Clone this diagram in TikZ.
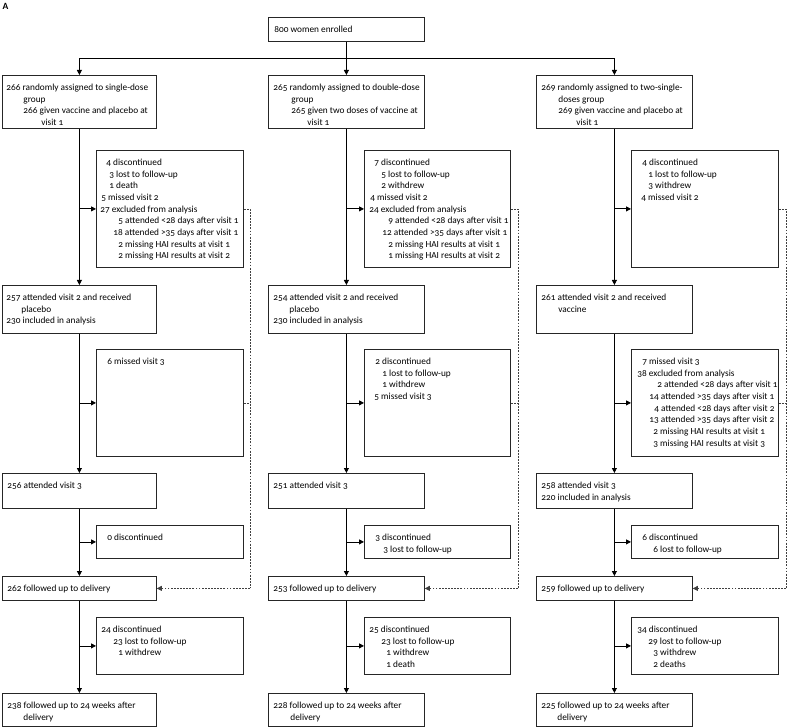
\documentclass[tikz,border=0pt]{standalone}
\usepackage{fontspec}
\setmainfont{Carlito}[Numbers=OldStyle]
\usetikzlibrary{arrows.meta}
\newcommand\ind[2]{\noindent\rlap{\hspace*{#1pt}\rule{0pt}{8pt}#2}\par}
\newcommand\bt[3]{\parbox[c][#2pt][t]{#1pt}{\vspace*{7pt}\fontsize{9.3}{11.7}\selectfont #3}}
\begin{document}
\begin{tikzpicture}[x=1pt,y=-1pt,
  box/.style={draw=black!85, line width=0.8pt, inner sep=0pt, anchor=north west},
  arr/.style={draw=black, line width=0.8pt, -{Triangle[length=5pt,width=5pt]}},
  dsh/.style={draw=black!75, line width=0.7pt, dash pattern=on 1.8pt off 1.3pt}]
\useasboundingbox (0,0) rectangle (787,727);
\node[anchor=center, inner sep=0pt, font=\fontsize{9.5}{10}\selectfont\bfseries] (lab) at (5.5,6) {A};
% top
\node[box] (T) at (268,17) {\bt{156}{24}{\ind{6}{800 women enrolled}}};
% row 1
\node[box] (L1) at (2,75) {\bt{154}{53}{\ind{4}{266 randomly assigned to single-dose}\ind{21}{group}\ind{21}{266 given vaccine and placebo at}\ind{39}{visit 1}}};
\node[box] (M1) at (268,75) {\bt{156}{53}{\ind{5}{265 randomly assigned to double-dose}\ind{23}{group}\ind{23}{265 given two doses of vaccine at}\ind{39}{visit 1}}};
\node[box] (R1) at (536,75) {\bt{156}{53}{\ind{5}{269 randomly assigned to two-single-}\ind{22}{doses group}\ind{22}{269 given vaccine and placebo at}\ind{40}{visit 1}}};
% side 1
\node[box] (LS1) at (96,150) {\bt{147}{117}{\ind{10}{4 discontinued}\ind{13}{3 lost to follow-up}\ind{13}{1 death}\ind{5}{5 missed visit 2}\ind{4}{27 excluded from analysis}\ind{22}{5 attended <28 days after visit 1}\ind{17}{18 attended >35 days after visit 1}\ind{22}{2 missing HAI results at visit 1}\ind{22}{2 missing HAI results at visit 2}}};
\node[box] (MS1) at (364,150) {\bt{146}{117}{\ind{10}{7 discontinued}\ind{17}{5 lost to follow-up}\ind{17}{2 withdrew}\ind{6}{4 missed visit 2}\ind{5}{24 excluded from analysis}\ind{24}{9 attended <28 days after visit 1}\ind{18}{12 attended >35 days after visit 1}\ind{24}{2 missing HAI results at visit 1}\ind{24}{1 missing HAI results at visit 2}}};
\node[box] (RS1) at (631,150) {\bt{147}{117}{\ind{11}{4 discontinued}\ind{17}{1 lost to follow-up}\ind{17}{3 withdrew}\ind{10}{4 missed visit 2}}};
% row 2
\node[box] (L2) at (2,285) {\bt{154}{48}{\ind{4}{257 attended visit 2 and received}\ind{19}{placebo}\ind{4}{230 included in analysis}}};
\node[box] (M2) at (268,285) {\bt{156}{48}{\ind{5}{254 attended visit 2 and received}\ind{21}{placebo}\ind{5}{230 included in analysis}}};
\node[box] (R2) at (536,285) {\bt{156}{48}{\ind{5}{261 attended visit 2 and received}\ind{22}{vaccine}}};
% side 2
\node[box] (LS2) at (96,349) {\bt{147}{107}{\ind{11}{6 missed visit 3}}};
\node[box] (MS2) at (364,349) {\bt{146}{107}{\ind{11}{2 discontinued}\ind{18}{1 lost to follow-up}\ind{18}{1 withdrew}\ind{10}{5 missed visit 3}}};
\node[box] (RS2) at (631,349) {\bt{147}{107}{\ind{11}{7 missed visit 3}\ind{6}{38 excluded from analysis}\ind{26}{2 attended <28 days after visit 1}\ind{18}{14 attended >35 days after visit 1}\ind{23}{4 attended <28 days after visit 2}\ind{18}{13 attended >35 days after visit 2}\ind{22}{2 missing HAI results at visit 1}\ind{22}{3 missing HAI results at visit 3}}};
% row 3
\node[box] (L3) at (2,473) {\bt{154}{35}{\ind{5}{256 attended visit 3}}};
\node[box] (M3) at (268,473) {\bt{156}{35}{\ind{5}{251 attended visit 3}}};
\node[box] (R3) at (536,473) {\bt{156}{35}{\ind{5}{258 attended visit 3}\ind{5}{220 included in analysis}}};
% side 3
\node[box] (LS3) at (96,525) {\bt{147}{33}{\ind{11}{0 discontinued}}};
\node[box] (MS3) at (364,525) {\bt{146}{33}{\ind{11}{3 discontinued}\ind{19}{3 lost to follow-up}}};
\node[box] (RS3) at (631,525) {\bt{147}{33}{\ind{11}{6 discontinued}\ind{22}{6 lost to follow-up}}};
% row 4
\node[box] (L4) at (2,576) {\bt{154}{24}{\ind{5}{262 followed up to delivery}}};
\node[box] (M4) at (268,576) {\bt{156}{24}{\ind{5}{253 followed up to delivery}}};
\node[box] (R4) at (536,576) {\bt{156}{24}{\ind{5}{259 followed up to delivery}}};
% side 4
\node[box] (LS4) at (96,617) {\bt{147}{57}{\ind{5}{24 discontinued}\ind{17}{23 lost to follow-up}\ind{22}{1 withdrew}}};
\node[box] (MS4) at (364,617) {\bt{146}{57}{\ind{5}{25 discontinued}\ind{17}{23 lost to follow-up}\ind{22}{1 withdrew}\ind{22}{1 death}}};
\node[box] (RS4) at (631,617) {\bt{147}{57}{\ind{6}{34 discontinued}\ind{17}{29 lost to follow-up}\ind{22}{3 withdrew}\ind{22}{2 deaths}}};
% row 5
\node[box] (L5) at (2,693) {\bt{154}{33}{\ind{5}{238 followed up to 24 weeks after}\ind{21}{delivery}}};
\node[box] (M5) at (268,693) {\bt{156}{33}{\ind{5}{228 followed up to 24 weeks after}\ind{22}{delivery}}};
\node[box] (R5) at (536,693) {\bt{156}{33}{\ind{5}{225 followed up to 24 weeks after}\ind{21}{delivery}}};
% top connectors
\coordinate (split) at (346,58);
\draw[arr] (T.south) -- (M1.north);
\draw[arr] (split) -| (L1.north);
\draw[arr] (split) -| (R1.north);
% main columns
\foreach \c in {L,M,R}{
  \draw[arr] (\c1.south) -- (\c2.north);
  \draw[arr] (\c2.south) -- (\c3.north);
  \draw[arr] (\c3.south) -- (\c4.north);
  \draw[arr] (\c4.south) -- (\c5.north);
  \draw[arr] (\c1.south |- \c S1.west) -- (\c S1.west);
  \draw[arr] (\c2.south |- \c S2.west) -- (\c S2.west);
  \draw[arr] (\c3.south |- \c S3.west) -- (\c S3.west);
  \draw[arr] (\c4.south |- \c S4.west) -- (\c S4.west);
}
% dashed return lines
\coordinate (dL) at (250,0);
\coordinate (dM) at (518,0);
\coordinate (dR) at (786,0);
\foreach \c in {L,M,R}{
  \draw[dsh] (\c S1.east) -- (\c S1.east -| d\c) -- (\c4.east -| d\c);
  \draw[dsh, -{Triangle[length=5pt,width=5pt]}] (\c4.east -| d\c) -- (\c4.east);
  \draw[dsh] (\c S2.east) -- (\c S2.east -| d\c);
}
\end{tikzpicture}
\end{document}
